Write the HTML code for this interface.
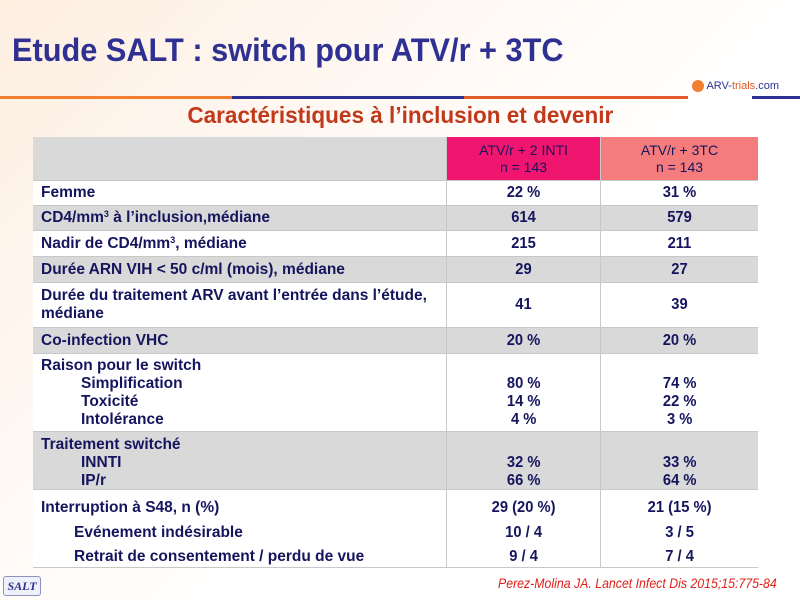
<!DOCTYPE html>
<html><head><meta charset="utf-8"><style>
*{margin:0;padding:0;box-sizing:border-box}
body{width:800px;height:600px;overflow:hidden;position:relative;font-family:"Liberation Sans",sans-serif;background:linear-gradient(135deg,#fdeee0 0%,#fff8f2 30%,#ffffff 60%,#ffffff 100%)}
.abs{position:absolute}
#title{left:12px;top:32px;font-size:32px;font-weight:bold;color:#2e3192;white-space:nowrap;transform-origin:left top;transform:scaleX(0.96)}
#subtitle{left:0;width:800px;top:102px;text-align:center;font-size:23px;font-weight:bold;color:#c0391b;white-space:nowrap}
#subtitle span{display:inline-block;transform:scaleX(0.98)}
.row{position:absolute;left:33px;width:725px;border-bottom:1px solid #c8c8c8}
.cell{position:absolute;top:0;height:100%;color:#15155e;font-weight:bold;font-size:15.5px;line-height:18px}
.lab{left:0;width:413px;padding-left:8px;white-space:nowrap}
.c1{left:413px;width:154px;text-align:center;border-left:1px solid #c8c8c8}
.c2{left:567px;width:158px;text-align:center;border-left:1px solid #c8c8c8}
.sq{display:inline-block;transform:scaleX(1.0);transform-origin:left center}
.sc{display:inline-block;transform:scaleX(0.95)}
sup{font-size:9px;vertical-align:top;line-height:10px}
.g{background:#d9d9d9}.w{background:#fff}
.vc{display:flex;flex-direction:column;justify-content:center}
</style></head><body>
<div class="abs" id="title">Etude SALT : switch pour ATV/r + 3TC</div>
<div class="abs" style="left:0;top:96px;width:800px;height:3px;background:linear-gradient(90deg,#f08030 0 29%,#2e3192 29% 58%,#e05a2a 58% 86%,transparent 86% 94%,#2e3192 94%)"></div>
<div class="abs" style="left:692px;top:80px;font-size:11px;color:#2e3192;white-space:nowrap"><span style="display:inline-block;width:12px;height:12px;border-radius:50%;background:#f08030;vertical-align:middle"></span> ARV-<span style="color:#e05a2a">trials</span>.com</div>
<div class="abs" id="subtitle"><span>Caractéristiques à l’inclusion et devenir</span></div>

<div class="row g" style="top:137px;height:44px">
<div class="cell c1 vc" style="background:#f0156e;font-weight:normal;font-size:14px;color:#15155e;line-height:17px">ATV/r + 2 INTI<br>n = 143</div>
<div class="cell c2 vc" style="background:#f47c7c;font-weight:normal;font-size:14px;line-height:17px">ATV/r + 3TC<br>n = 143</div>
</div>
<div class="row w" style="top:181px;height:25px"><div class="cell lab vc"><span class="sq">Femme</span></div><div class="cell c1 vc"><span class="sc">22 %</span></div><div class="cell c2 vc"><span class="sc">31 %</span></div></div>
<div class="row g" style="top:206px;height:25px"><div class="cell lab vc"><span class="sq">CD4/mm<sup>3</sup> à l’inclusion,médiane</span></div><div class="cell c1 vc"><span class="sc">614</span></div><div class="cell c2 vc"><span class="sc">579</span></div></div>
<div class="row w" style="top:231px;height:26px"><div class="cell lab vc"><span class="sq">Nadir de CD4/mm<sup>3</sup>, médiane</span></div><div class="cell c1 vc"><span class="sc">215</span></div><div class="cell c2 vc"><span class="sc">211</span></div></div>
<div class="row g" style="top:257px;height:26px"><div class="cell lab vc"><span class="sq">Durée ARN VIH &lt; 50 c/ml (mois), médiane</span></div><div class="cell c1 vc"><span class="sc">29</span></div><div class="cell c2 vc"><span class="sc">27</span></div></div>
<div class="row w" style="top:283px;height:45px"><div class="cell lab vc"><span class="sq">Durée du traitement ARV avant l’entrée dans l’étude,<br>médiane</span></div><div class="cell c1 vc"><span class="sc">41</span></div><div class="cell c2 vc"><span class="sc">39</span></div></div>
<div class="row g" style="top:328px;height:26px"><div class="cell lab vc"><span class="sq">Co-infection VHC</span></div><div class="cell c1 vc"><span class="sc">20 %</span></div><div class="cell c2 vc"><span class="sc">20 %</span></div></div>
<div class="row w" style="top:354px;height:78px"><div class="cell lab" style="padding-top:3px"><span class="sq">Raison pour le switch<br><span style="padding-left:40px">Simplification</span><br><span style="padding-left:40px">Toxicité</span><br><span style="padding-left:40px">Intolérance</span></span></div><div class="cell c1" style="padding-top:21px"><span class="sc">80 %<br>14 %<br>4 %</span></div><div class="cell c2" style="padding-top:21px"><span class="sc">74 %<br>22 %<br>3 %</span></div></div>
<div class="row g" style="top:432px;height:58px"><div class="cell lab" style="padding-top:4px"><span class="sq">Traitement switché<br><span style="padding-left:40px">INNTI</span><br><span style="padding-left:40px">IP/r</span></span></div><div class="cell c1" style="padding-top:22px"><span class="sc">32 %<br>66 %</span></div><div class="cell c2" style="padding-top:22px"><span class="sc">33 %<br>64 %</span></div></div>
<div class="row w" style="top:490px;height:78px"><div class="cell lab" style="padding-top:6px;line-height:24.5px"><span class="sq">Interruption à S48, n (%)<br><span style="padding-left:33px">Evénement indésirable</span><br><span style="padding-left:33px">Retrait de consentement / perdu de vue</span></span></div><div class="cell c1" style="padding-top:6px;line-height:24.5px"><span class="sc">29 (20 %)<br>10 / 4<br>9 / 4</span></div><div class="cell c2" style="padding-top:6px;line-height:24.5px"><span class="sc">21 (15 %)<br>3 / 5<br>7 / 4</span></div></div>

<div class="abs" style="left:3px;top:576px;width:38px;height:20px;border:1px solid #9090c0;border-radius:3px;background:#eef0fa;font-family:'Liberation Serif',serif;font-style:italic;font-weight:bold;font-size:12px;color:#2e3192;text-align:center;line-height:18px">SALT</div>
<div class="abs" style="left:498px;top:575px;font-size:14px;font-style:italic;color:#e0201a;white-space:nowrap;transform-origin:left top;transform:scaleX(0.88)">Perez-Molina JA. Lancet Infect Dis 2015;15:775-84</div>
</body></html>
